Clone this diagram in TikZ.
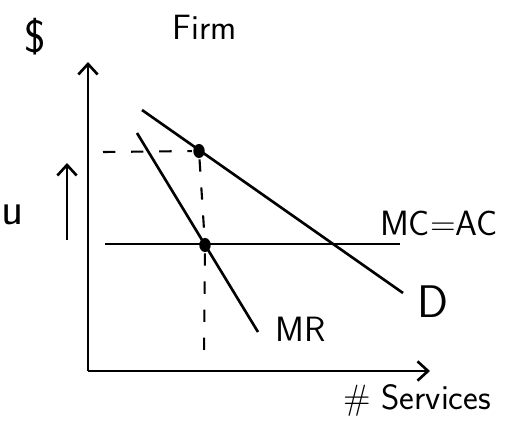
\documentclass[tikz,border=0pt]{standalone}
\usepackage{tikz}
\usetikzlibrary{arrows.meta,shapes.geometric}

\begin{document}
\begin{tikzpicture}[x=0.02cm,y=-0.02cm,line width=1.5pt,>={Straight Barb[length=6pt,width=11pt]},
  lbl/.style={font=\sffamily\fontsize{20}{22}\selectfont},
  biglbl/.style={font=\sffamily\fontsize{26}{28}\selectfont},
  guide/.style={line width=1.2pt,dash pattern=on 7pt off 9pt},
  dot/.style={ellipse,fill,inner sep=0pt,minimum width=6.5pt,minimum height=8pt}]
  \useasboundingbox (0,0) rectangle (515,423);
  \coordinate (O) at (88,371);
  \coordinate (Ytop) at (88,62);
  \coordinate (Xend) at (430,371);
  \coordinate (Dstart) at (142,110);
  \coordinate (Dend) at (403,293);
  \coordinate (MRstart) at (137,133);
  \coordinate (MRend) at (258,332);
  \coordinate (MCstart) at (105,244);
  \coordinate (MCend) at (400,244);
  \coordinate (Ulow) at (67,240);
  \coordinate (Uhigh) at (67,163);
  \coordinate (Ymark) at (103,152);
  \coordinate (Xmark) at (204,357);
  \draw[->] (O) -- (Ytop);
  \draw[->] (O) -- (Xend);
  \draw (Dstart) -- (Dend);
  \draw (MRstart) -- (MRend);
  \draw (MCstart) -- (MCend);
  \draw[->] (Ulow) -- (Uhigh);
  \node[dot] (top) at (199,151) {};
  \node[dot] (bot) at (205,245) {};
  \draw[guide] (Ymark) -- (top);
  \draw[guide] (top) -- (bot) -- (Xmark);
  \node[biglbl] (dollar) at (35,37) {\$};
  \node[lbl] (firm) at (205,27) {Firm};
  \node[biglbl] (u) at (13,215) {u};
  \node[lbl] (mcac) at (439,223) {MC=AC};
  \node[biglbl] (dlab) at (433,302) {D};
  \node[lbl] (mrlab) at (301,329) {MR};
  \node[lbl] (xlab) at (417,400) {\# Services};
\end{tikzpicture}
\end{document}
